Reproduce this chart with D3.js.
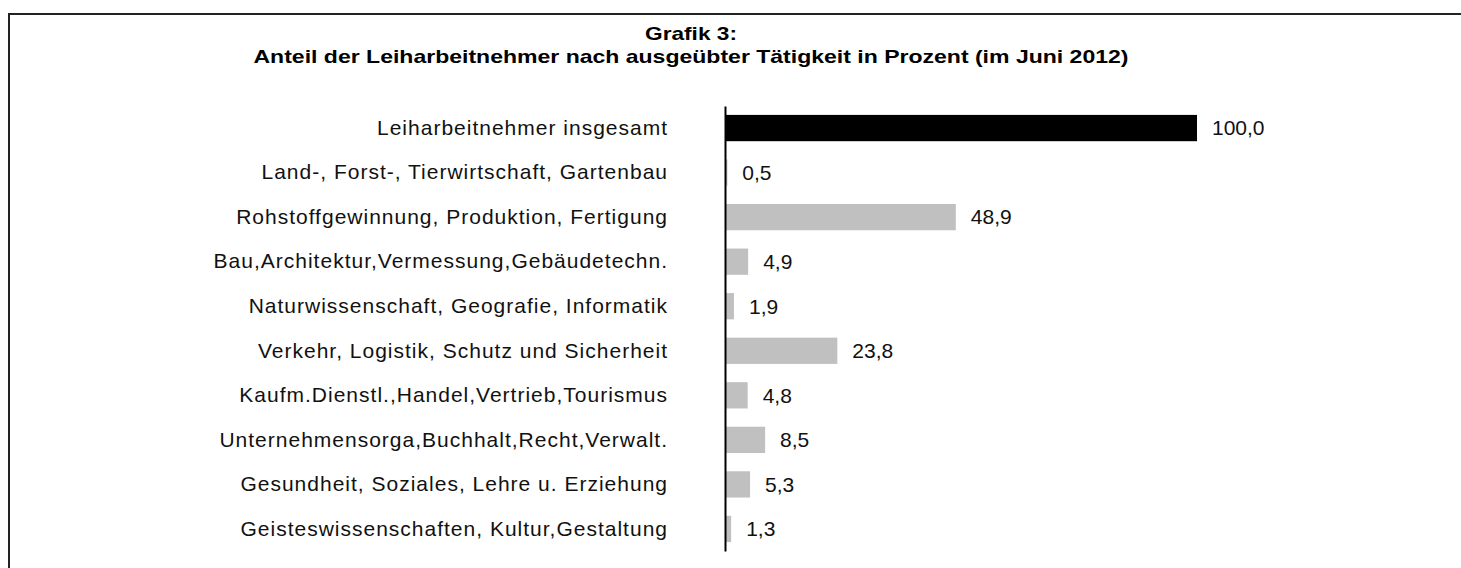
<!DOCTYPE html>
<html>
<head>
<meta charset="utf-8">
<script src="https://cdn.jsdelivr.net/npm/d3@7"></script>
<style>
  body { margin: 0; background: #fff; }
  text { font-family: "Liberation Sans", Arial, sans-serif; }
</style>
</head>
<body>
<script>
'use strict';

const width = 1461;
const height = 568;

// data
const categories = [
    "Leiharbeitnehmer insgesamt",
    "Land-, Forst-, Tierwirtschaft, Gartenbau",
    "Rohstoffgewinnung, Produktion, Fertigung",
    "Bau,Architektur,Vermessung,Gebäudetechn.",
    "Naturwissenschaft, Geografie, Informatik",
    "Verkehr, Logistik, Schutz und Sicherheit",
    "Kaufm.Dienstl.,Handel,Vertrieb,Tourismus",
    "Unternehmensorga,Buchhalt,Recht,Verwalt.",
    "Gesundheit, Soziales, Lehre u. Erziehung",
    "Geisteswissenschaften, Kultur,Gestaltung"
];
const values = [100.0, 0.5, 48.9, 4.9, 1.9, 23.8, 4.8, 8.5, 5.3, 1.3];
const titleLines = [
    "Grafik 3:",
    "Anteil der Leiharbeitnehmer nach ausgeübter Tätigkeit in Prozent (im Juni 2012)"
];
const titleWidths = [92, 875];

const svg = d3.select("body")
    .append("svg")
    .attr("width", width)
    .attr("height", height);

// frame
svg.append("rect")
    .attr("x", 9)
    .attr("y", 14)
    .attr("width", width)
    .attr("height", height)
    .attr("fill", "none")
    .attr("stroke", "#222")
    .attr("stroke-width", 2);

// title
svg.append("g").selectAll("text")
    .data(titleLines)
    .enter()
    .append("text")
    .attr("x", 691)
    .attr("y", (d, i) => 40 + i * 23)
    .attr("text-anchor", "middle")
    .attr("font-size", "19px")
    .attr("font-weight", "bold")
    .attr("textLength", (d, i) => titleWidths[i])
    .attr("lengthAdjust", "spacingAndGlyphs")
    .attr("fill", "#000")
    .text(d => d);

let x = d3.scaleLinear()
    .domain([0, 100])
    .range([725, 1197]);

let y = d3.scaleBand()
    .domain(categories)
    .range([106, 551])
    .paddingInner(0.41)
    .paddingOuter(0.2);

// bars
svg.append("g").selectAll("rect")
    .data(values)
    .enter()
    .append("rect")
    .attr("x", x(0))
    .attr("y", (d, i) => y(categories[i]))
    .attr("width", d => x(d) - x(0))
    .attr("height", y.bandwidth())
    .attr("fill", (d, i) => i === 0 ? "#000" : "#c0c0c0");

// value labels
svg.append("g").selectAll("text")
    .data(values)
    .enter()
    .append("text")
    .attr("x", d => x(d) + 15)
    .attr("y", (d, i) => y(categories[i]) + y.bandwidth() / 2)
    .attr("dy", "0.35em")
    .attr("font-size", "21px")
    .attr("fill", "#111")
    .text(d => d.toFixed(1).replace(".", ","));

// category axis
let yAxis = svg.append("g")
    .attr("transform", "translate(" + x(0) + ",0)")
    .call(d3.axisLeft(y).tickSize(0).tickPadding(57));

yAxis.select(".domain")
    .attr("stroke", "#000")
    .attr("stroke-width", 2);

yAxis.selectAll("text")
    .attr("font-size", "21px")
    .attr("font-family", "'Liberation Sans', Arial, sans-serif")
    .attr("letter-spacing", "1px")
    .attr("fill", "#111");
</script>
</body>
</html>
